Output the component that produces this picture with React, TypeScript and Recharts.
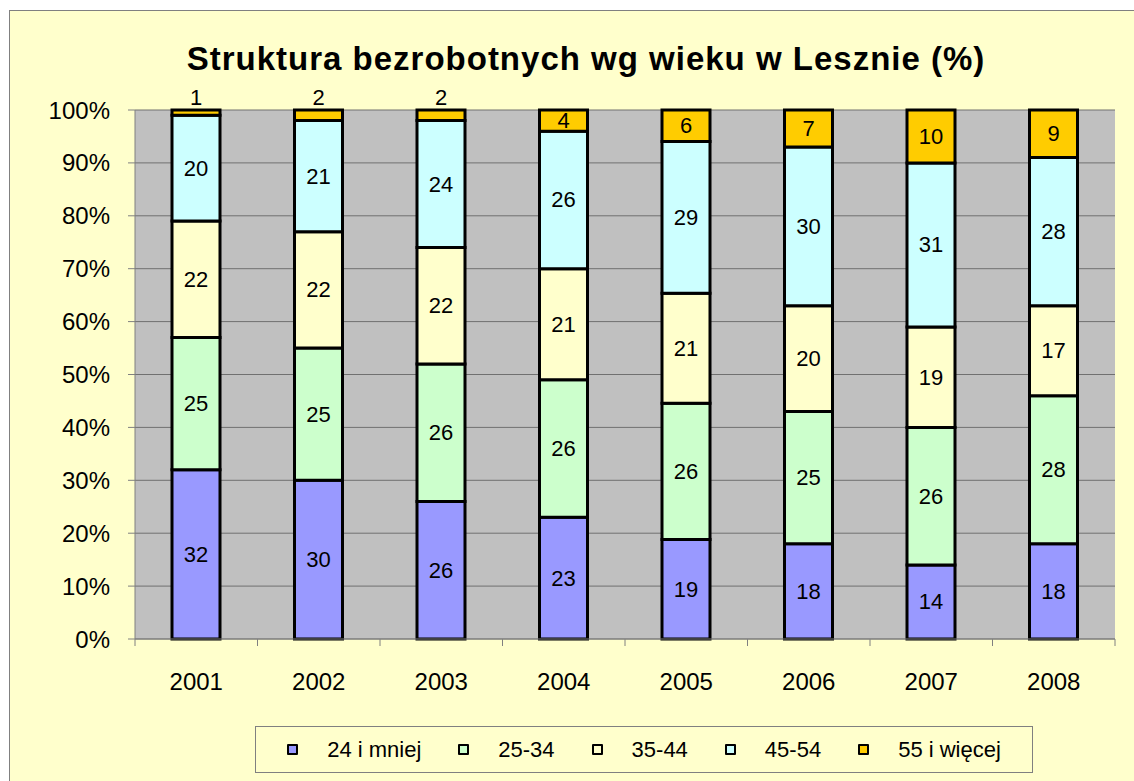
import { Bar, BarChart, CartesianGrid, LabelList, XAxis, YAxis } from "recharts";

const years = ["2001", "2002", "2003", "2004", "2005", "2006", "2007", "2008"];
const upTo24 = [32, 30, 26, 23, 19, 18, 14, 18];
const from25to34 = [25, 25, 26, 26, 26, 25, 26, 28];
const from35to44 = [22, 22, 22, 21, 21, 20, 19, 17];
const from45to54 = [20, 21, 24, 26, 29, 30, 31, 28];
const over55 = [1, 2, 2, 4, 6, 7, 10, 9];
const yTicks = [0, 0.1, 0.2, 0.3, 0.4, 0.5, 0.6, 0.7, 0.8, 0.9, 1];

const series = [
  { key: "a", label: "24 i mniej", color: "#9999FF", values: upTo24 },
  { key: "b", label: "25-34", color: "#CCFFCC", values: from25to34 },
  { key: "c", label: "35-44", color: "#FFFFCC", values: from35to44 },
  { key: "d", label: "45-54", color: "#CCFFFF", values: from45to54 },
  { key: "e", label: "55 i więcej", color: "#FFCC00", values: over55 },
] as const;

const data = years.map((year, i) => ({
  year,
  ...Object.fromEntries(series.map((s) => [s.key, s.values[i]])),
}));

const font = '"Liberation Sans", Arial, sans-serif';

function SegmentLabel(props: any) {
  const { x, y, width, height, value } = props;
  const h = Math.abs(Number(height));
  const cx = Number(x) + Number(width) / 2;
  // thin segments get their label above the bar, like Excel did
  const cy = h < 12 ? Number(y) - 13 : Number(y) + Number(height) / 2;
  return (
    <text x={cx} y={cy} textAnchor="middle" dominantBaseline="central" fontSize={22} fontFamily={font} fill="#000">
      {value}
    </text>
  );
}

function YearTick(props: any) {
  const { x, y, payload, index, visibleTicksCount } = props;
  const half = payload?.offset ?? 0;
  return (
    <g>
      <line x1={x - half} x2={x - half} y1={y} y2={y + 7} stroke="#808080" strokeWidth={1} />
      {index === visibleTicksCount - 1 && (
        <line x1={x + half} x2={x + half} y1={y} y2={y + 7} stroke="#808080" strokeWidth={1} />
      )}
      <text x={x} y={y + 51} textAnchor="middle" fontSize={24} fontFamily={font} fill="#000">
        {payload.value}
      </text>
    </g>
  );
}

export default function App() {
  return (
    <div style={{ position: "absolute", left: 0, top: 0, width: 1134, height: 781, background: "#fff", overflow: "hidden", fontFamily: font }}>
      <div style={{ position: "absolute", left: 9, top: 10, width: 1140, height: 790, background: "#FFFFCC", border: "1px solid #808080" }} />
      <div style={{ position: "absolute", left: 586, top: 40, transform: "translateX(-50%)", whiteSpace: "nowrap", fontSize: 33, fontWeight: "bold", letterSpacing: 1, color: "#000" }}>
        Struktura bezrobotnych wg wieku w Lesznie (%)
      </div>
      <div style={{ position: "absolute", left: 0, top: 0 }}>
        <BarChart
          width={1134}
          height={781}
          data={data}
          stackOffset="expand"
          barSize={48}
          margin={{ top: 110, right: 19, bottom: 82, left: 35 }}
        >
          <CartesianGrid vertical={false} stroke="#707070" fill="#C0C0C0" fillOpacity={1} />
          <XAxis
            dataKey="year"
            height={60}
            tickLine={false}
            tickSize={0}
            tickMargin={0}
            axisLine={{ stroke: "#808080" }}
            tick={<YearTick />}
            interval={0}
          />
          <YAxis
            width={100}
            domain={[0, 1]}
            ticks={yTicks}
            tickFormatter={(v: number) => `${Math.round(v * 100)}%`}
            tickSize={7}
            tickMargin={18}
            tickLine={{ stroke: "#808080" }}
            axisLine={{ stroke: "#808080" }}
            tick={{ fontSize: 24, fontFamily: font, fill: "#000" }}
          />
          <YAxis
            yAxisId="edge"
            orientation="right"
            width={0}
            domain={[0, 1]}
            tick={false}
            tickLine={false}
            axisLine={{ stroke: "#808080", strokeWidth: 3 }}
          />
          {series.map((s) => (
            <Bar key={s.key} dataKey={s.key} name={s.label} stackId="age" fill={s.color} stroke="#000" strokeWidth={3} isAnimationActive={false}>
              <LabelList dataKey={s.key} content={<SegmentLabel />} />
            </Bar>
          ))}
        </BarChart>
      </div>
      <div
        style={{
          position: "absolute", left: 255, top: 726, width: 776, height: 45,
          border: "1px solid #808080", display: "flex", alignItems: "center", justifyContent: "center", gap: 37,
        }}
      >
        {series.map((s) => (
          <span key={s.key} style={{ display: "flex", alignItems: "center", fontSize: 22, color: "#000" }}>
            <i style={{ display: "inline-block", width: 7, height: 7, background: s.color, border: "2.5px solid #000", borderRadius: 1, marginRight: 29 }} />
            {s.label}
          </span>
        ))}
      </div>
    </div>
  );
}
